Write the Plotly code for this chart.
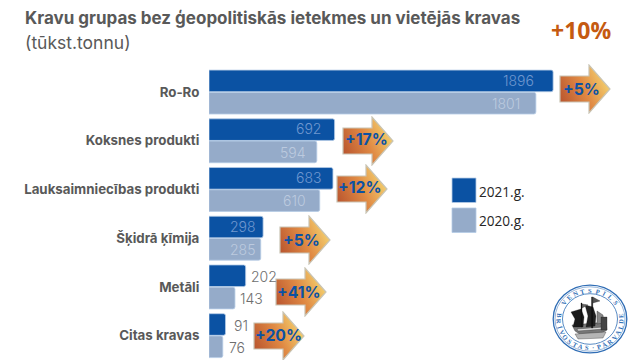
import base64, math
import plotly.graph_objects as go

categories = ["Ro-Ro", "Koksnes produkti", "Lauksaimniecības produkti", "Šķidrā ķīmija", "Metāli", "Citas kravas"]
values_2021 = [1896, 692, 683, 298, 202, 91]
values_2020 = [1801, 594, 610, 285, 143, 76]
changes = ["+5%", "+17%", "+12%", "+5%", "+41%", "+20%"]
name_2021 = "2021.g."
name_2020 = "2020.g."
title_text = "Kravu grupas bez ģeopolitiskās ietekmes un vietējās kravas"
subtitle_text = "(tūkst.tonnu)"
total_change = "+10%"

W, H = 640, 360
DARK, LIGHT = "#0B52A3", "#95ABC9"
GREY = "#595959"
FONT = "Inter, Lato, sans-serif"
PX = 0.1815  # pixels per data unit
X0 = 209

def xp(x): return x / W
def yp(y): return 1 - y / H

fig = go.Figure()
for name, vals, col in [(name_2021, values_2021, DARK), (name_2020, values_2020, LIGHT)]:
    fig.add_bar(y=categories, x=vals, name=name, orientation="h",
                marker=dict(color=col, cornerradius=2, line=dict(color="#B5CBE6", width=0.8)),
                showlegend=False, hoverinfo="x+y")

ann = []
shapes = []
images = []

def text(x, y, s, size, color=GREY, weight=400, anchor="left", family=FONT, **kw):
    ann.append(dict(x=xp(x), y=yp(y), xref="paper", yref="paper", text=s, showarrow=False,
                    xanchor=anchor, yanchor="middle", align=anchor,
                    font=dict(size=size, color=color, family=family, weight=weight),
                    borderpad=0, **kw))

text(24, 18, title_text, 17, weight=700)
text(24, 42, subtitle_text, 17.5, weight=400)
text(581, 30, total_change, 23, color="#C55A11", weight=700, anchor="center", family="Open Sans")

# Value labels, tied to the bars by data coordinates
inside_gap = [[17, 12, 10, 5, None, None], [14, 9, 12, 4, None, None]]
outside_gap = [[None, None, None, None, 3, 6], [None, None, None, None, 3, 4]]
for s, vals in enumerate([values_2021, values_2020]):
    for i, v in enumerate(vals):
        ins = inside_gap[s][i]
        if ins is not None:
            col = "#6F97CF" if s == 0 else "#BCCADF"
            a, xs = "right", -ins
            shift = 12 if s == 0 else -11.5
        else:
            col = "#6E6E6E"
            a, xs = "left", outside_gap[s][i]
            shift = 10 if s == 0 else -12
        ann.append(dict(x=v, y=categories[i], xref="x", yref="y", text=str(v), showarrow=False,
                        xanchor=a, yanchor="middle", xshift=xs, yshift=shift,
                        font=dict(size=14, color=col, family=FONT, weight=300)))

# Arrows with gradient
svg = ('<svg xmlns="http://www.w3.org/2000/svg" width="52" height="50" viewBox="0 0 52 50">'
       '<defs><linearGradient id="g" x1="0" y1="0.75" x2="1" y2="0.3">'
       '<stop offset="0" stop-color="#B9552F"/><stop offset="0.5" stop-color="#E08A44"/>'
       '<stop offset="1" stop-color="#F6D873"/></linearGradient></defs>'
       '<path d="M1 12 H30 V1 L51 25 L30 49 V38 H1 Z" fill="url(#g)" stroke="#C9C4B4" stroke-width="1.2"/>'
       '</svg>')
uri = "data:image/svg+xml;base64," + base64.b64encode(svg.encode()).decode()
arrow_box = [(559, 64), (342, 116), (336, 164), (279, 215), (275, 267), (253, 311)]
label_c = [(581, 89), (366, 139), (360, 187), (301, 240), (299, 292), (278, 335)]
for (ax, ay), (lx, ly), c in zip(arrow_box, label_c, changes):
    images.append(dict(source=uri, xref="paper", yref="paper", x=xp(ax), y=yp(ay),
                       sizex=52 / W, sizey=50 / H, xanchor="left", yanchor="top",
                       sizing="stretch", layer="above"))
    text(lx, ly, c, 15.8, color=DARK, weight=700, anchor="center")

# Legend
for y0, col, name, ty in [(178, DARK, name_2021, 191), (208, LIGHT, name_2020, 220)]:
    shapes.append(dict(type="rect", xref="paper", yref="paper", x0=xp(452), x1=xp(476),
                       y0=yp(y0), y1=yp(y0 + 24.5), fillcolor=col,
                       line=dict(color="#B5CBE6", width=0.8)))
    text(478, ty, name, 13.6, color="#262626", family="Open Sans")

# Seal
CX, CY, SY = 590, 319, 0.92
RING = "#2F6DB5"
def ring(r, w):
    shapes.append(dict(type="circle", xref="paper", yref="paper", x0=xp(CX - r), x1=xp(CX + r),
                       y0=yp(CY + r * SY), y1=yp(CY - r * SY), line=dict(color=RING, width=w),
                       fillcolor="rgba(0,0,0,0)"))
ring(36.8, 1.3); ring(35, 0.5); ring(27.5, 0.8)
def poly(pts, fill, lw=0.3):
    d = "M" + " L".join(f"{xp(CX + a):.5f},{yp(CY + b):.5f}" for a, b in pts) + " Z"
    shapes.append(dict(type="path", xref="paper", yref="paper", path=d, fillcolor=fill,
                       line=dict(color="#111111", width=lw)))
poly([(-18, 6), (16, 3), (17, 11), (10, 15), (-9, 16), (-15, 12)], "#777777")
poly([(-13, 10), (14, 8), (14, 10), (-12, 12)], "#DDDDDD")
poly([(-19, -7), (-9, -10), (-6, -2), (-7, 8), (-17, 8), (-15, 0)], "#1A1A1A")
poly([(-5, -14), (3, -12), (6, -3), (5, 7), (-4, 8), (-2, -3)], "#222222")
poly([(7, -8), (13, -4), (14, 4), (7, 5)], "#8A8A8A")
poly([(11, -2), (17, -2), (17, 11), (11, 11)], "#444444")
poly([(1.5, -22), (2.8, -22), (2.8, 9), (1.5, 9)], "#111111")
poly([(2.8, -22), (10, -18), (2.8, -16)], "#555555")
poly([(-9, -16), (-8, -16), (-8, 8), (-9, 8)], "#111111")
poly([(-8, -15), (-2, -14), (-8, -11)], "#666666")
poly([(-15, 15), (16, 13), (13, 19), (-12, 20)], "#B5B5B5")

def letter(ch, deg, rot):
    t = math.radians(deg)
    text(CX + 31.3 * math.sin(t), CY - 31.3 * SY * math.cos(t), ch, 6.5, color=RING, weight=700,
         anchor="center", family="Liberation Serif", textangle=rot)
for i, ch in enumerate("VENTSPILS"):
    deg = -56 + i * 14
    letter(ch, deg, deg)
for i, ch in enumerate("BRĪVOSTAS·PĀRVALDE"):
    deg = -84 - i * 11.3
    letter(ch, deg, deg + 180)

fig.update_layout(
    width=W, height=H, margin=dict(l=0, r=0, t=0, b=0),
    paper_bgcolor="white", plot_bgcolor="white",
    barmode="group", bargap=0.085, bargroupgap=0.03,
    annotations=ann, shapes=shapes, images=images,
    xaxis=dict(domain=[X0 / W, 1], range=[0, (W - X0) / PX], visible=False),
    yaxis=dict(domain=[0, yp(67.7)], autorange="reversed", categoryorder="array",
               categoryarray=categories, showline=False, showgrid=False,
               ticks="outside", ticklen=6, tickcolor="rgba(0,0,0,0)",
               tickfont=dict(size=13.3, color=GREY, family=FONT, weight=700)),
    font=dict(family=FONT),
)
fig.write_html("out.html", config=dict(displayModeBar=False),
               post_script="document.body.style.margin='0';document.body.style.overflow='hidden';")
